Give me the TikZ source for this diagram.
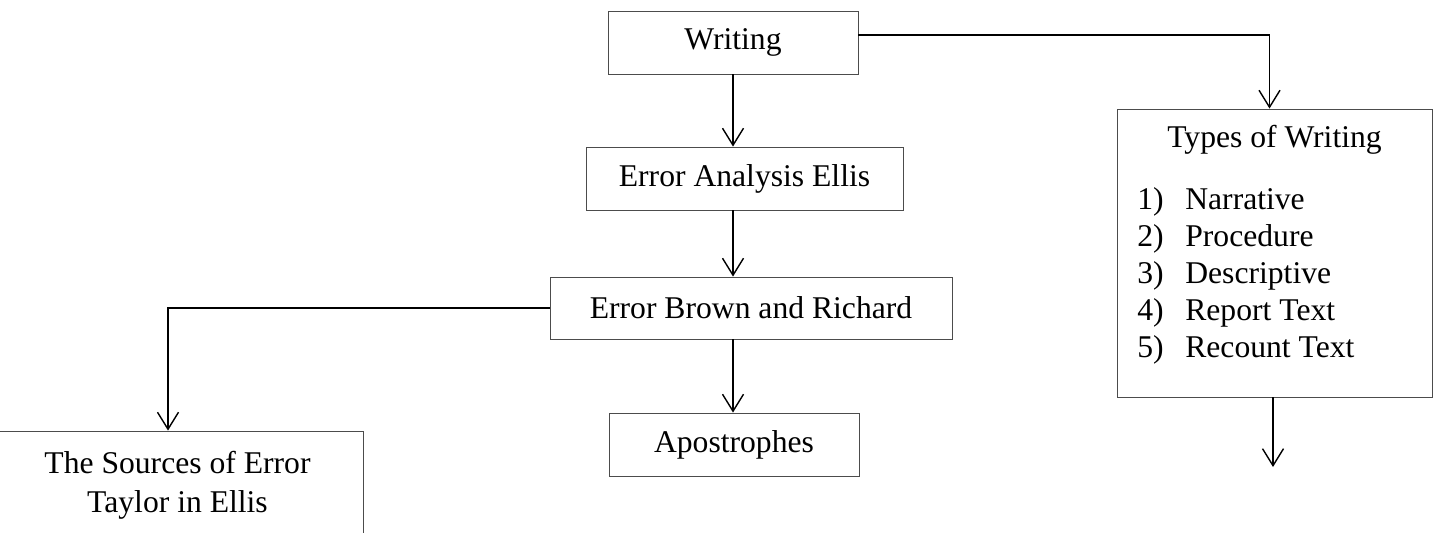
\documentclass[tikz,border=0pt]{standalone}
\usepackage{fontspec}
\setmainfont{Liberation Serif}
\usepackage{tikz}
\usetikzlibrary{arrows.meta, positioning}

\begin{document}
\begin{tikzpicture}[
    arr/.style={-{Straight Barb[length=3.4mm, width=4.2mm]}, line width=0.8pt},
    box/.style={rectangle, draw=black!70, line width=0.5pt, inner sep=0pt, font=\fontsize{18}{22}\selectfont, align=center},
    txt/.style={inner sep=0pt, font=\fontsize{18}{21}\selectfont},
]
\clip (0,0) rectangle (28.66,-10.66);

% Main column
\node[box, minimum width=5.0cm, minimum height=1.26cm] (writing) at (14.66,-0.85) {Writing};
\node[box, minimum width=6.34cm, minimum height=1.26cm] (analysis) at (14.89,-3.57) {Error Analysis Ellis};
\node[box, minimum width=8.04cm, minimum height=1.24cm] (brown) at (15.02,-6.16) {Error Brown and Richard};
\node[box, minimum width=5.0cm, minimum height=1.26cm] (apos) at (14.68,-8.89) {Apostrophes};

% Left branch
\node[box, minimum width=7.42cm, minimum height=2.16cm] (sources) at (3.55,-9.70) {The Sources of Error\\Taylor in Ellis};

% Right branch
\node[box, minimum width=6.3cm, minimum height=5.76cm] (types) at (25.49,-5.06) {};
\node[txt] (typestitle) at (25.49,-2.80) {Types of Writing};
\node[txt, anchor=west] (typeslist) at (22.74,-5.52) {%
  \begin{tabular}{@{}p{0.96cm}@{}l@{}}
  1) & Narrative\\
  2) & Procedure\\
  3) & Descriptive\\
  4) & Report Text\\
  5) & Recount Text
  \end{tabular}};
\coordinate (typesend) at (25.46,-9.34);

% Connectors
\draw[arr] (writing.south) -- (writing.south |- analysis.north);
\draw[arr] (writing.south |- analysis.south) -- (writing.south |- brown.north);
\draw[arr] (writing.south |- brown.south) -- (writing.south |- apos.north);
\draw[arr] ([yshift=0.15cm]writing.east) -| ([xshift=-0.1cm]types.north);
\draw[arr] (brown.west) -| ([xshift=-0.19cm]sources.north);
\draw[arr] (typesend |- types.south) -- (typesend);

\end{tikzpicture}
\end{document}
